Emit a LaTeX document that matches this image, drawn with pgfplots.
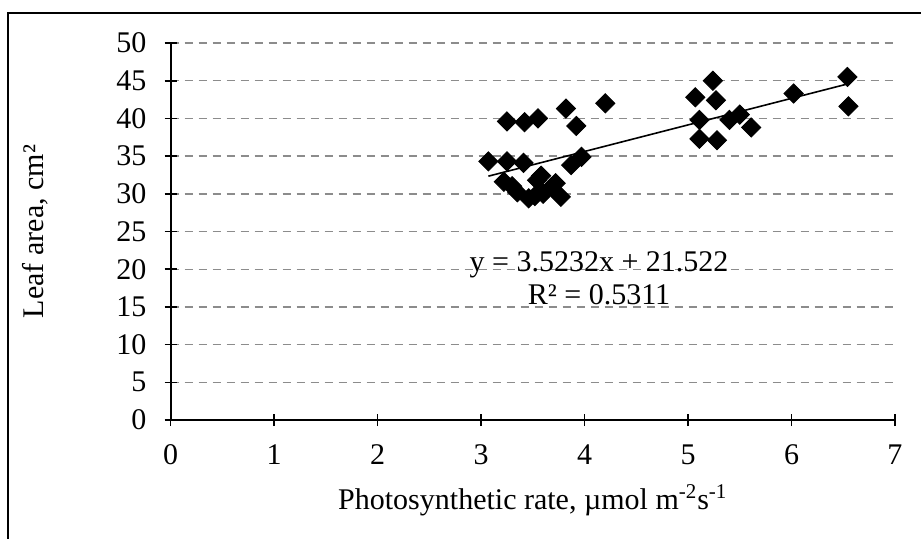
\documentclass[border=0pt]{standalone}
\usepackage{pgfplots}
\pgfplotsset{compat=1.18}
\usepackage{fontspec}
\setmainfont{Liberation Serif}
\begin{document}
\fontsize{15pt}{18pt}\selectfont
\begin{tikzpicture}
\useasboundingbox (0,0) rectangle (460.5pt,269pt);
\draw[line width=1pt] (4pt,-10pt) -- (4pt,262.5pt) -- (480pt,262.5pt);
\begin{axis}[
  scale only axis,
  width=362.15pt, height=188.5pt,
  at={(85.35pt,59pt)}, anchor=south west,
  xmin=0, xmax=7, ymin=0, ymax=50,
  xtick={0,1,2,3,4,5,6,7},
  ytick={0,5,10,15,20,25,30,35,40,45,50},
  axis lines=left,
  axis line style={line width=1pt, -},
  tick align=center,
  major tick length=6pt,
  tick style={line width=0.8pt, black},
  ymajorgrids,
  grid style={densely dashed, dash pattern=on 4pt off 3pt, line width=0.7pt, color=black!45},
  /pgf/number format/assume math mode=true,
  ticklabel style={font=\fontsize{15pt}{18pt}\selectfont},
  yticklabel style={xshift=-4pt},
  xticklabel style={yshift=-4pt},
  label style={font=\fontsize{15pt}{18pt}\selectfont},
  xlabel={Photosynthetic rate, µmol m\textsuperscript{-2}s\textsuperscript{-1}},
  ylabel={Leaf area, cm²},
  ylabel style={yshift=24pt},
  clip=false,
]
\addplot[only marks, mark=square*, mark size=3.4pt, mark options={rotate=45, fill=black, draw=black}] coordinates {
(3.07,34.3) (3.25,39.6) (3.42,39.5) (3.55,40.0) (3.82,41.3) (3.92,39.0) (4.20,42.0)
(3.25,34.3) (3.41,34.1) (3.87,33.8) (3.97,34.9)
(3.22,31.6) (3.30,31.0) (3.35,30.2) (3.46,29.4) (3.54,31.8) (3.58,32.4) (3.52,29.7)
(3.60,30.0) (3.68,30.9) (3.72,31.4) (3.77,29.6)
(5.07,42.8) (5.24,45.0) (5.27,42.4) (5.11,39.8) (5.11,37.3) (5.28,37.1) (5.40,39.8)
(5.50,40.5) (5.61,38.8) (6.02,43.3) (6.54,45.5) (6.55,41.6)
};
\addplot[black, line width=0.8pt] coordinates {(3.07,32.338) (6.55,44.599)};
\node[align=center, font=\fontsize{15pt}{16.5pt}\selectfont] at (axis cs:4.14,18.8) {y = 3.5232x + 21.522\\R² = 0.5311};
\end{axis}
\end{tikzpicture}
\end{document}
